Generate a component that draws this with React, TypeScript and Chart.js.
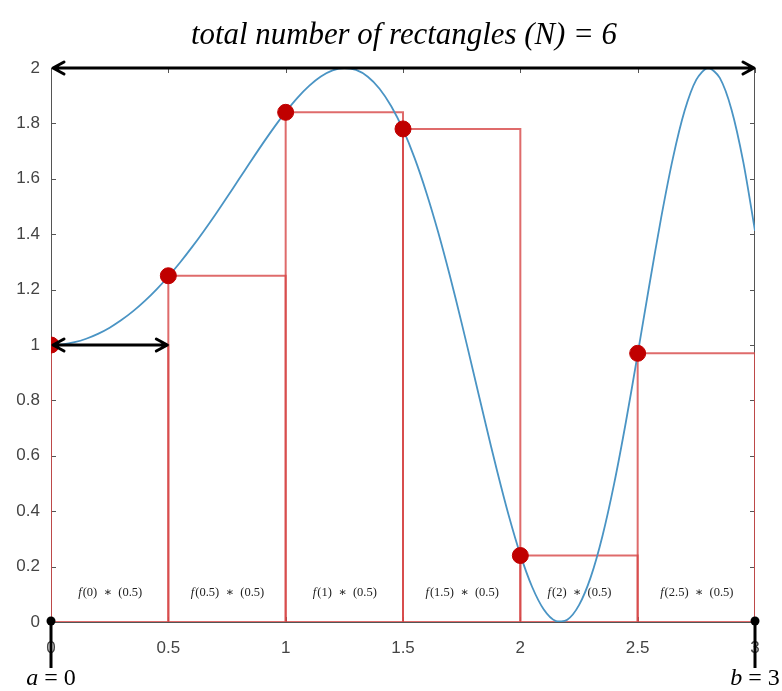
import React, { useEffect, useRef } from "react";
import { Chart, registerables } from "chart.js";

Chart.register(...registerables);

// ---- data ----
const curveX = [
  0, 0.05, 0.1, 0.15, 0.2, 0.25, 0.3, 0.35, 0.4, 0.45, 0.5, 0.55, 0.6, 0.65, 0.7, 0.75, 0.8, 0.85, 0.9, 0.95,
  1.0, 1.05, 1.1, 1.15, 1.2, 1.25, 1.3, 1.35, 1.4, 1.45, 1.5, 1.55, 1.6, 1.65, 1.7, 1.75, 1.8, 1.85, 1.9, 1.95,
  2.0, 2.05, 2.1, 2.15, 2.2, 2.25, 2.3, 2.35, 2.4, 2.45, 2.5, 2.55, 2.6, 2.65, 2.7, 2.75, 2.8, 2.85, 2.9, 2.95, 3.0,
];
const curveY = [
  1.0, 1.0025, 1.01, 1.0225, 1.04, 1.0625, 1.0899, 1.1222, 1.1593, 1.2011, 1.2474, 1.2979, 1.3523, 1.4101, 1.4706,
  1.5333, 1.5972, 1.6613, 1.7243, 1.7847, 1.8415, 1.8925, 1.9356, 1.9693, 1.9915, 2.0, 1.9929, 1.9685, 1.9252,
  1.8619, 1.7781, 1.6736, 1.549, 1.4069, 1.2489, 1.079, 0.9018, 0.7228, 0.5486, 0.3861, 0.2432, 0.1273, 0.0452,
  0.004, 0.0081, 0.0607, 0.1619, 0.3106, 0.5004, 0.723, 0.9668, 1.2175, 1.459, 1.6738, 1.8453, 1.9578, 2.0, 1.9642,
  1.8497, 1.6612, 1.4121,
];
const rectLeft = [0, 0.5, 1, 1.5, 2, 2.5];
const rectHeight = [1.0, 1.25, 1.84, 1.78, 0.24, 0.97];
const rectWidth = 0.5;
const rectArgs = ["(0)", "(0.5)", "(1)", "(1.5)", "(2)", "(2.5)"];
const xTicks = [0, 0.5, 1, 1.5, 2, 2.5, 3];
const xTickLabels = ["0", "0.5", "1", "1.5", "2", "2.5", "3"];
const yTicks = [0, 0.2, 0.4, 0.6, 0.8, 1, 1.2, 1.4, 1.6, 1.8, 2];
const yTickLabels = ["0", "0.2", "0.4", "0.6", "0.8", "1", "1.2", "1.4", "1.6", "1.8", "2"];
const arrowStartX = [0, 0];
const arrowEndX = [3, 0.5];
const arrowY = [2, 1];
const endpointX = [0, 3];
const endpointLabels = ["a = 0", "b = 3"];
const titleText = "total number of rectangles (N) = 6";

const tickFont = '"Liberation Sans", Arial, sans-serif';
const serif = '"Liberation Serif", "DejaVu Serif", serif';

const overlayPlugin = {
  id: "overlay",
  beforeDatasetsDraw(chart: any) {
    const { ctx, chartArea: a, scales } = chart;
    const xs = scales.x;
    const ys = scales.y;
    ctx.save();
    ctx.strokeStyle = "#555";
    ctx.lineWidth = 1;
    ctx.strokeRect(a.left + 0.5, a.top + 0.5, a.right - a.left - 1, a.bottom - a.top);
    const tl = 5;
    ctx.beginPath();
    xTicks.forEach((v) => {
      const px = Math.round(xs.getPixelForValue(v)) + 0.5;
      ctx.moveTo(px, a.bottom);
      ctx.lineTo(px, a.bottom - tl);
      ctx.moveTo(px, a.top);
      ctx.lineTo(px, a.top + tl);
    });
    yTicks.forEach((v) => {
      const py = Math.round(ys.getPixelForValue(v)) + 0.5;
      ctx.moveTo(a.left, py);
      ctx.lineTo(a.left + tl, py);
      ctx.moveTo(a.right, py);
      ctx.lineTo(a.right - tl, py);
    });
    ctx.stroke();
    ctx.restore();
  },
  afterDatasetsDraw(chart: any) {
    const { ctx, scales } = chart;
    const xs = scales.x;
    const ys = scales.y;
    ctx.save();
    // rectangle labels
    ctx.fillStyle = "#222";
    ctx.textBaseline = "middle";
    const labelY = ys.getPixelForValue(0) - 29;
    const fs = 12.5;
    rectLeft.forEach((l, i) => {
      const cx = xs.getPixelForValue(l + rectWidth / 2);
      ctx.font = `italic ${fs}px ${serif}`;
      const fW = ctx.measureText("f").width;
      ctx.font = `${fs}px ${serif}`;
      const rest = rectArgs[i] + "  \u2217  (0.5)";
      const rW = ctx.measureText(rest).width;
      const start = cx - (fW + rW) / 2;
      ctx.font = `italic ${fs}px ${serif}`;
      ctx.textAlign = "left";
      ctx.fillText("f", start, labelY);
      ctx.font = `${fs}px ${serif}`;
      ctx.fillText(rest, start + fW + 1, labelY);
    });
    // arrows
    ctx.strokeStyle = "#000";
    ctx.lineWidth = 3;
    ctx.lineCap = "round";
    ctx.lineJoin = "round";
    arrowY.forEach((yv, i) => {
      const x0 = xs.getPixelForValue(arrowStartX[i]) + 2;
      const x1 = xs.getPixelForValue(arrowEndX[i]) - 1;
      const py = ys.getPixelForValue(yv);
      ctx.beginPath();
      ctx.moveTo(x0, py);
      ctx.lineTo(x1, py);
      ctx.moveTo(x0 + 11, py - 6);
      ctx.lineTo(x0, py);
      ctx.lineTo(x0 + 11, py + 6);
      ctx.moveTo(x1 - 11, py - 6);
      ctx.lineTo(x1, py);
      ctx.lineTo(x1 - 11, py + 6);
      ctx.stroke();
    });
    // endpoints
    endpointX.forEach((xv, i) => {
      const px = xs.getPixelForValue(xv);
      const py = ys.getPixelForValue(0);
      ctx.lineWidth = 3;
      ctx.lineCap = "butt";
      ctx.beginPath();
      ctx.moveTo(px, py);
      ctx.lineTo(px, py + 46);
      ctx.stroke();
      ctx.fillStyle = "#000";
      ctx.beginPath();
      ctx.arc(px, py - 1, 4.5, 0, Math.PI * 2);
      ctx.fill();
      ctx.textBaseline = "middle";
      const v = endpointLabels[i].slice(0, 1);
      const rest = endpointLabels[i].slice(1);
      ctx.font = `italic 24px ${serif}`;
      const vW = ctx.measureText(v).width;
      ctx.font = `24px ${serif}`;
      const rW = ctx.measureText(rest).width;
      const cx = i === 0 ? px : Math.min(px, chart.width - 2 - (vW + rW) / 2);
      const sx = cx - (vW + rW) / 2;
      ctx.textAlign = "left";
      ctx.font = `italic 24px ${serif}`;
      ctx.fillText(v, sx, py + 57);
      ctx.font = `24px ${serif}`;
      ctx.fillText(rest, sx + vW, py + 57);
    });
    // title
    ctx.fillStyle = "#000";
    ctx.textAlign = "center";
    ctx.textBaseline = "alphabetic";
    let size = 26;
    ctx.font = `italic ${size}px ${serif}`;
    const w = ctx.measureText(titleText).width;
    size = Math.min(32, (size * 426) / w);
    ctx.font = `italic ${size}px ${serif}`;
    ctx.fillText(titleText, 404, 44);
    ctx.restore();
  },
};

export default function App() {
  const ref = useRef<HTMLCanvasElement | null>(null);
  useEffect(() => {
    if (!ref.current) return;
    const rectSets = rectLeft.map((l, i) => ({
      type: "line" as const,
      data: [
        { x: l, y: 0 },
        { x: l, y: rectHeight[i] },
        { x: l + rectWidth, y: rectHeight[i] },
        { x: l + rectWidth, y: 0 },
        { x: l, y: 0 },
      ],
      borderColor: "rgba(215, 70, 70, 0.8)",
      borderWidth: 2,
      pointRadius: 0,
      tension: 0,
      fill: false,
      order: 3,
    }));
    const chart = new Chart(ref.current, {
      type: "line",
      data: {
        datasets: [
          {
            type: "scatter" as const,
            data: rectLeft.map((l, i) => ({ x: l, y: rectHeight[i] })),
            backgroundColor: "#c00000",
            borderColor: "#c00000",
            pointRadius: 8,
            order: 0,
          } as any,
          {
            type: "line" as const,
            data: curveX.map((x, i) => ({ x, y: curveY[i] })),
            borderColor: "#4a94c4",
            borderWidth: 1.8,
            pointRadius: 0,
            tension: 0.3,
            fill: false,
            order: 1,
          },
          ...rectSets,
        ],
      },
      options: {
        responsive: false,
        animation: false,
        devicePixelRatio: 1,
        layout: { padding: { top: 68, right: 27, left: 0, bottom: 0 } },
        plugins: { legend: { display: false }, tooltip: { enabled: false }, title: { display: false } },
        scales: {
          x: {
            type: "linear",
            min: 0,
            max: 3,
            afterBuildTicks: (s: any) => {
              s.ticks = xTicks.map((v) => ({ value: v }));
            },
            afterFit: (s: any) => {
              s.height = 69;
            },
            grid: { display: false, drawTicks: false },
            border: { display: false },
            ticks: {
              padding: 16,
              color: "#444",
              font: { family: tickFont, size: 17 },
              maxRotation: 0,
              autoSkip: false,
              callback: (_v: any, i: number) => xTickLabels[i],
            },
          },
          y: {
            type: "linear",
            min: 0,
            max: 2,
            afterBuildTicks: (s: any) => {
              s.ticks = yTicks.map((v) => ({ value: v }));
            },
            afterFit: (s: any) => {
              s.width = 51;
            },
            grid: { display: false, drawTicks: false },
            border: { display: false },
            ticks: {
              padding: 11,
              color: "#444",
              font: { family: tickFont, size: 17 },
              autoSkip: false,
              callback: (_v: any, i: number) => yTickLabels[i],
            },
          },
        },
      } as any,
      plugins: [overlayPlugin],
    });
    return () => chart.destroy();
  }, []);
  return (
    <div style={{ position: "absolute", left: 0, top: 0, width: 782, height: 691, background: "#fff" }}>
      <canvas ref={ref} width={782} height={691} style={{ width: 782, height: 691, display: "block" }} />
    </div>
  );
}
